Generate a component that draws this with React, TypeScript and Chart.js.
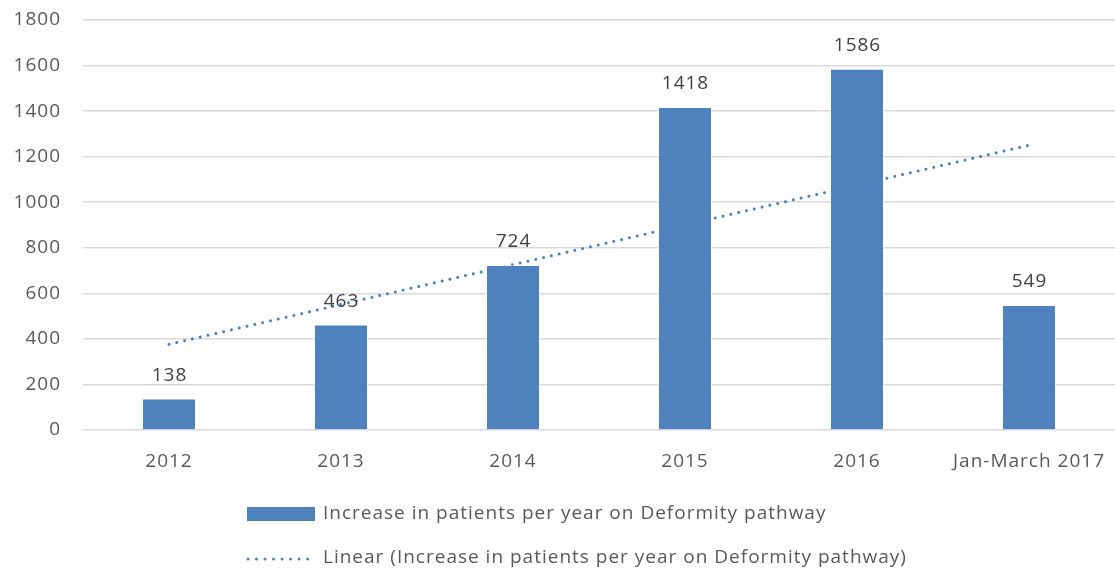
import React, { useEffect, useRef } from "react";
import { Chart, registerables } from "chart.js";

Chart.register(...registerables);

const categories = ["2012", "2013", "2014", "2015", "2016", "Jan-March 2017"];
const patients = [138, 463, 724, 1418, 1586, 549];
const trend = [376, 551, 726, 900, 1075, 1250];
const yTicks = [0, 200, 400, 600, 800, 1000, 1200, 1400, 1600, 1800];
const barLabel = "Increase in patients per year on Deformity pathway";
const trendLabel = "Linear (Increase in patients per year on Deformity pathway)";

const BLUE = "#4F81BD";
const FONT = "'Open Sans'";
const FS = 19;
const SPACING = "1px";

const spacingPlugin = {
  id: "spacing",
  beforeUpdate(chart: any) {
    (chart.ctx as any).letterSpacing = SPACING;
  },
  beforeDraw(chart: any) {
    (chart.ctx as any).letterSpacing = SPACING;
  },
};

const valueLabels = {
  id: "valueLabels",
  afterDatasetsDraw(chart: any) {
    const ctx = chart.ctx;
    const meta = chart.getDatasetMeta(0);
    ctx.save();
    ctx.font = `${FS}px ${FONT}`;
    ctx.fillStyle = "#404040";
    ctx.textAlign = "center";
    ctx.textBaseline = "alphabetic";
    meta.data.forEach((el: any, i: number) => {
      ctx.fillText(String(patients[i]), el.x + 0.5, el.y - 18);
    });
    ctx.restore();
  },
};

const customLegend = {
  id: "customLegend",
  afterDraw(chart: any) {
    const ctx = chart.ctx;
    ctx.save();
    ctx.font = `${FS}px ${FONT}`;
    const swW = 68;
    const gap = 8;
    const w = swW + gap + ctx.measureText(trendLabel).width;
    const x0 = Math.round(577 - w / 2);
    // row 1
    ctx.fillStyle = BLUE;
    ctx.fillRect(x0, 507, swW, 14);
    ctx.fillStyle = "#595959";
    ctx.textBaseline = "middle";
    ctx.textAlign = "left";
    ctx.fillText(barLabel, x0 + swW + gap, 514);
    // row 2
    ctx.strokeStyle = BLUE;
    ctx.lineWidth = 3;
    ctx.lineCap = "round";
    ctx.setLineDash([0.01, 8.5]);
    ctx.beginPath();
    ctx.moveTo(x0 + 1, 559);
    ctx.lineTo(x0 + swW, 559);
    ctx.stroke();
    ctx.setLineDash([]);
    ctx.fillText(trendLabel, x0 + swW + gap, 558);
    ctx.restore();
  },
};

export default function App() {
  const ref = useRef<HTMLCanvasElement | null>(null);
  useEffect(() => {
    document.body.style.margin = "0";
    const canvas = ref.current!;
    const chart = new Chart(canvas, {
      type: "bar",
      data: {
        labels: categories,
        datasets: [
          {
            type: "bar",
            label: barLabel,
            data: patients,
            backgroundColor: BLUE,
            borderColor: "rgba(255,255,255,0.5)",
            borderWidth: 1,
            barPercentage: 0.314,
            categoryPercentage: 1,
            order: 0,
          },
          {
            type: "line",
            label: trendLabel,
            data: trend,
            borderColor: BLUE,
            borderWidth: 3,
            borderDash: [0.01, 8],
            borderCapStyle: "round",
            pointRadius: 0,
            fill: false,
            tension: 0,
            order: 1,
          } as any,
        ],
      },
      options: {
        responsive: false,
        animation: false,
        layout: { padding: { top: 20, right: 0, left: 0, bottom: 93 } },
        plugins: {
          legend: { display: false },
          tooltip: { enabled: false },
        },
        scales: {
          x: {
            offset: true,
            grid: { display: false, drawTicks: false },
            border: { display: false },
            ticks: {
              padding: 20,
              color: "#595959",
              font: { family: FONT, size: FS },
              maxRotation: 0,
              autoSkip: false,
            },
            afterFit: (s: any) => {
              s.height = 50;
              s.paddingLeft = 0;
              s.paddingRight = 0;
            },
          },
          y: {
            min: 0,
            max: 1800,
            afterBuildTicks: (s: any) => {
              s.ticks = yTicks.map((v) => ({ value: v }));
            },
            grid: { color: "#D9D9D9", lineWidth: 1.5, drawTicks: false },
            border: { display: false },
            ticks: {
              padding: 22,
              color: "#595959",
              font: { family: FONT, size: FS },
              callback: (v: any) => String(v),
            },
            afterFit: (s: any) => {
              s.width = 83;
              s.paddingTop = 10;
              s.paddingBottom = 10;
            },
          },
        },
      },
      plugins: [spacingPlugin, valueLabels, customLegend],
    });
    return () => chart.destroy();
  }, []);
  return <canvas ref={ref} width={1115} height={573} style={{ display: "block" }} />;
}
